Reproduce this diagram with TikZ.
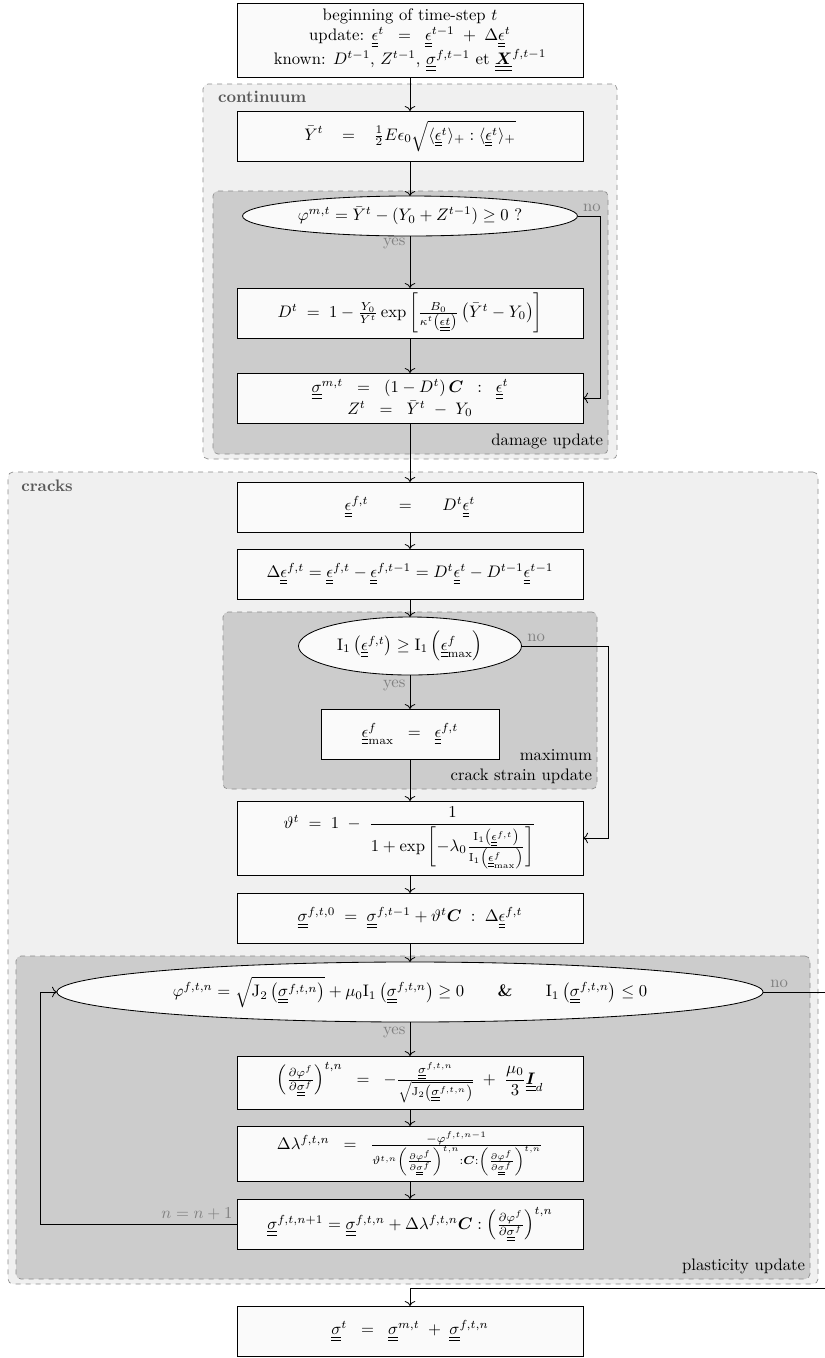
\documentclass[tikz,border=0pt]{standalone}
\usepackage{amsmath, amssymb}
\usepackage{tikz}
\usetikzlibrary{arrows.meta, positioning, shapes.geometric, fit, backgrounds, calc}

\newcommand{\dul}[1]{\underline{\underline{#1}}}

\begin{document}
\begin{tikzpicture}[
    every node/.style={align=center},
    arrow/.style={-{To[length=3pt]}, line width=0.5pt},
    process/.style={rectangle, draw, line width=0.6pt, fill=black!2, minimum width=207.6pt, minimum height=30pt, inner sep=3pt, outer sep=0pt},
    decision/.style={ellipse, draw, line width=0.5pt, fill=black!2, inner sep=0pt, outer sep=0pt},
    zone/.style={draw=black!45, dashed, rounded corners=3pt, fill=black!6, inner sep=0pt},
    subzone/.style={zone, fill=black!20},
    zonetitle/.style={font=\bfseries, text=black!65, inner sep=3pt},
    zonenote/.style={align=right, inner sep=3pt},
    flowlabel/.style={text=black!50, inner sep=2.5pt}
]
\useasboundingbox (0,0) rectangle (495pt,-814.8pt);
\clip (0,0) rectangle (495pt,-814.8pt);

\node[process, minimum height=44.4pt] (start) at (246pt,-24pt) {beginning of time-step $t$\\ update: $\dul{\epsilon}^t \;\;=\;\; \dul{\epsilon}^{t-1} \;+\; \Delta\dul{\epsilon}^t$\\ known: $D^{t-1}$, $Z^{t-1}$, $\dul{\sigma}^{f,t-1}$ et $\dul{\boldsymbol{X}}^{f,t-1}$};
\node[process, below=20.4pt of start] (ybar) {$\bar{Y}^t \;\;\;=\;\;\; \tfrac{1}{2}E\epsilon_0\sqrt{\langle\dul{\epsilon}^t\rangle_+ : \langle\dul{\epsilon}^t\rangle_+}$};
\node[decision, minimum width=201pt, minimum height=24pt, below=21pt of ybar] (ymt) {$\varphi^{m,t} = \bar{Y}^t - (Y_0 + Z^{t-1}) \geq 0$ ?};
\node[process, below=31.2pt of ymt] (dmgd) {$D^t \;=\; 1 - \frac{Y_0}{\bar{Y}^t}\exp\left[\frac{B_0}{\kappa^t\left(\dul{\epsilon t}\right)}\left(\bar{Y}^t - Y_0\right)\right]$};
\node[process, below=21pt of dmgd] (sigm) {$\dul{\sigma}^{m,t} \;\;=\;\; (1-D^t)\,\boldsymbol{C} \;\;:\;\; \dul{\epsilon}^t$\\ $Z^t \;\;=\;\; \bar{Y}^t \;-\; Y_0$};
\node[process, below=35.4pt of sigm] (epsf) {$\dul{\epsilon}^{f,t} \quad\;\;=\quad\;\; D^t\dul{\epsilon}^t$};
\node[process, below=10.2pt of epsf] (deps) {$\Delta\dul{\epsilon}^{f,t} = \dul{\epsilon}^{f,t} - \dul{\epsilon}^{f,t-1} = D^t\dul{\epsilon}^t - D^{t-1}\dul{\epsilon}^{t-1}$};
\node[decision, minimum width=133.8pt, minimum height=34.8pt, below=10.8pt of deps] (imax) {$\mathrm{I}_1\left(\dul{\epsilon}^{f,t}\right) \geq \mathrm{I}_1\left(\dul{\epsilon}^f_{\max}\right)$};
\node[process, minimum width=106.8pt, below=20.4pt of imax] (emax) {$\dul{\epsilon}^f_{\max} \;\;=\;\; \dul{\epsilon}^{f,t}$};
\node[process, minimum height=44.4pt, below=25.2pt of emax] (theta) {$\vartheta^t \;=\; 1 \;-\; \dfrac{1}{1+\exp\left[-\lambda_0\frac{\mathrm{I}_1\left(\dul{\epsilon}^{f,t}\right)}{\mathrm{I}_1\left(\dul{\epsilon}^f_{\max}\right)}\right]}$};
\node[process, below=10.8pt of theta] (sig0) {$\dul{\sigma}^{f,t,0} \;=\; \dul{\sigma}^{f,t-1} + \vartheta^t\boldsymbol{C} \;:\; \Delta\dul{\epsilon}^{f,t}$};
\node[decision, minimum width=423.6pt, minimum height=36pt, below=11.4pt of sig0] (yft) {$\varphi^{f,t,n} = \sqrt{\mathrm{J}_2\left(\dul{\sigma}^{f,t,n}\right)} + \mu_0\mathrm{I}_1\left(\dul{\sigma}^{f,t,n}\right) \geq 0 \qquad \textbf{\&} \qquad \mathrm{I}_1\left(\dul{\sigma}^{f,t,n}\right) \leq 0$};
\node[process, minimum height=31.8pt, below=20.4pt of yft] (dphi) {$\left(\frac{\partial\varphi^f}{\partial\dul{\sigma}^f}\right)^{t,n} \;\;=\;\; -\frac{\dul{\sigma}^{f,t,n}}{\sqrt{\mathrm{J}_2\left(\dul{\sigma}^{f,t,n}\right)}} \;+\; \dfrac{\mu_0}{3}\dul{\boldsymbol{I}}_d$};
\node[process, minimum height=33pt, below=10.2pt of dphi] (dlam) {$\Delta\lambda^{f,t,n} \;\;=\;\; \frac{-\varphi^{f,t,n-1}}{\vartheta^{t,n}\left(\frac{\partial\varphi^f}{\partial\dul{\sigma}^f}\right)^{t,n}:\boldsymbol{C}:\left(\frac{\partial\varphi^f}{\partial\dul{\sigma}^f}\right)^{t,n}}$};
\node[process, below=10.8pt of dlam] (sig1) {$\dul{\sigma}^{f,t,n+1} = \dul{\sigma}^{f,t,n} + \Delta\lambda^{f,t,n}\boldsymbol{C} : \left(\frac{\partial\varphi^f}{\partial\dul{\sigma}^f}\right)^{t,n}$};
\node[process, below=34.2pt of sig1] (final) {$\dul{\sigma}^t \;\;=\;\; \dul{\sigma}^{m,t} \;+\; \dul{\sigma}^{f,t,n}$};

\begin{scope}[on background layer]
\node[zone, fit={($(ybar.north west)+(-20.4pt,16.2pt)$) ($(sigm.south east)+(20.4pt,-21.6pt)$)}] (cont) {};
\node[subzone, fit={($(ymt.north -| dmgd.west)+(-14.4pt,3pt)$) ($(sigm.south east)+(15pt,-18.6pt)$)}] (dmg) {};
\node[zone, fit={($(epsf.north)+(-241.2pt,6pt)$) ($(sig1.south)+(244.8pt,-21pt)$)}] (cracks) {};
\node[subzone, fit={($(imax.north)+(-112.2pt,3pt)$) ($(emax.south)+(112.2pt,-18pt)$)}] (maxz) {};
\node[subzone, fit={($(yft.north)+(-236.4pt,3.6pt)$) ($(sig1.south)+(240pt,-18pt)$)}] (plas) {};
\end{scope}

\node[zonetitle, anchor=north west] (conttitle) at ([shift={(6pt,-1.2pt)}]cont.north west) {continuum};
\node[zonetitle, anchor=north west] (crackstitle) at ([shift={(5pt,-1.8pt)}]cracks.north west) {cracks};
\node[zonenote, anchor=south east] (dmgnote) at (dmg.south east) {damage update};
\node[zonenote, anchor=south east] (maxnote) at (maxz.south east) {maximum\\crack strain update};
\node[zonenote, anchor=south east] (plasnote) at (plas.south east) {plasticity update};

\draw[arrow] (start) -- (ybar);
\draw[arrow] (ybar) -- (ymt);
\draw[arrow] (ymt) -- node[flowlabel, left, pos=0.15] (yes1) {yes} (dmgd);
\draw[arrow] (ymt.east) -- node[flowlabel, above, pos=0.64] (no1) {no} ($(ymt.east -| sigm.east)+(10.2pt,0)$) |- (sigm.east);
\draw[arrow] (dmgd) -- (sigm);
\draw[arrow] (sigm) -- (epsf);
\draw[arrow] (epsf) -- (deps);
\draw[arrow] (deps) -- (imax);
\draw[arrow] (imax) -- node[flowlabel, left, pos=0.3] (yes2) {yes} (emax);
\draw[arrow] (imax.east) -- node[flowlabel, above, pos=0.17] (no2) {no} ($(imax.east -| theta.east)+(15pt,0)$) |- (theta.east);
\draw[arrow] (emax) -- (theta);
\draw[arrow] (theta) -- (sig0);
\draw[arrow] (sig0) -- (yft);
\draw[arrow] (yft) -- node[flowlabel, left, pos=0.3] (yes3) {yes} (dphi);
\draw[arrow] (dphi) -- (dlam);
\draw[arrow] (dlam) -- (sig1);
\draw[arrow] (sig1.west) -- node[flowlabel, above left, pos=0] (loop) {$n = n+1$} ($(sig1.west -| yft.west)+(-10.2pt,0)$) |- (yft.west);
\draw[arrow] (yft.east) -- node[flowlabel, above, pos=0.24] (no3) {no} ++(40.2pt,0) |- ([yshift=10.8pt]final.north) -- (final);
\end{tikzpicture}
\end{document}
